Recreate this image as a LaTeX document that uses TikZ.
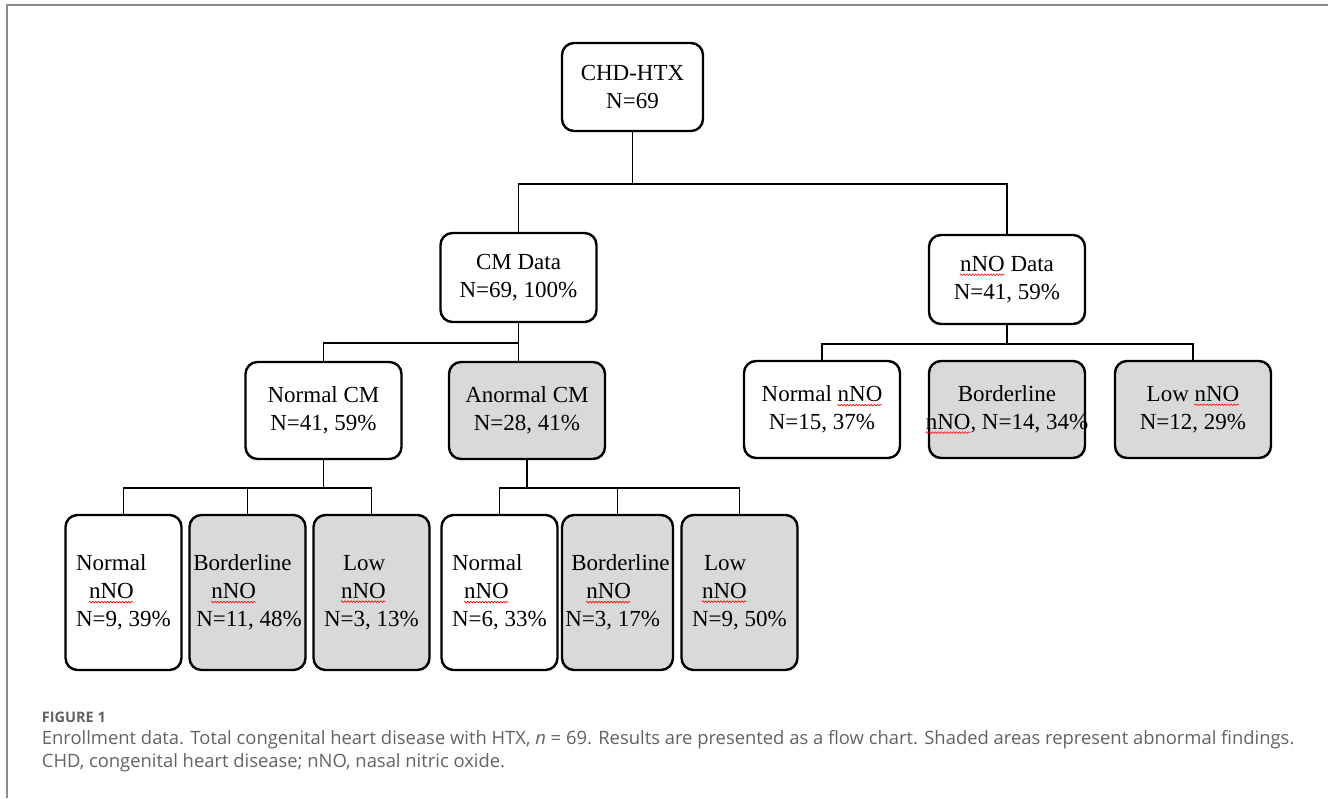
\documentclass[tikz,border=0pt]{standalone}
\usepackage{fontspec}
\setmainfont{Liberation Serif}
\newfontfamily\capfont{Open Sans}
\usetikzlibrary{positioning,decorations.pathmorphing}
\definecolor{boxgray}{HTML}{D9D9D9}
\definecolor{framegray}{HTML}{8C8C8C}
\definecolor{capgray}{HTML}{626262}
% red wavy underline (spell check marks)
\newsavebox\wavebox
\newcommand{\uw}[1]{\sbox\wavebox{#1}\usebox\wavebox\llap{\raisebox{-4.5pt}{\tikz[x=1pt ,y=1pt ,sharp corners]
\draw[red ,line width=0.6pt ,decorate ,decoration={snake ,amplitude=0.8pt ,segment length=3pt}] (0,0) -- (\wd\wavebox,0);}}}

\begin{document}
\begin{tikzpicture}[x=1pt ,y=-1pt ,on grid ,
line width=1.8pt ,
wbox/.style ={draw ,line width=2.4pt ,rounded corners=12pt ,align=center ,
inner sep=0pt ,font=\fontsize{23}{28}\selectfont},
gbox/.style ={wbox ,fill=boxgray},
wide/.style ={minimum width=156pt ,minimum height=89pt},
mid/.style ={minimum width=156pt ,minimum height=97pt},
tall/.style ={minimum width=116pt ,minimum height=155pt},
captxt/.style ={anchor=west ,inner sep=0pt ,text=capgray}]
\useasboundingbox (0,0) rectangle (1328,798);
\draw[framegray ,line width=1.4pt] (7,798) -- (7,5) -- (1328,5);
% tree
\node[wbox ,minimum width=141pt ,minimum height=88pt] (top) at (632.5,87) {CHD-HTX\\N=69};
\node[wbox ,wide] (cm) [below left = 190.5pt and 114pt of top] {CM Data\\N=69, 100\%};
\node[wbox ,wide] (nno) [below right = 192.5pt and 374.5pt of top] {\uw{nNO} Data\\N=41, 59\%};
\node[wbox ,mid] (ncm) [below left = 133pt and 195pt of cm] {Normal CM\\N=41, 59\%};
\node[gbox ,mid] (acm) [below right = 133pt and 8.5pt of cm] {Anormal CM\\N=28, 41\%};
\node[wbox ,mid] (rn) [below left = 130pt and 185pt of nno] {Normal \uw{nNO}\\N=15, 37\%};
\node[gbox ,mid] (rb) [below = 130pt of nno] {Borderline\\\makebox[150pt]{\uw{nNO}, N=14, 34\%}};
\node[gbox ,mid] (rl) [below right = 130pt and 186pt of nno] {Low \uw{nNO}\\N=12, 29\%};
\node[wbox ,tall ,align=left] (b1) [below left = 182pt and 200pt of ncm] {Normal\\\hspace*{13pt}\uw{nNO}\\N=9, 39\%};
\node[gbox ,tall ,align=left] (b2) [right = 124pt of b1] {Borderline\\\hspace*{18pt}\uw{nNO}\\\hspace*{3pt}N=11, 48\%};
\node[gbox ,tall ,align=left] (b3) [right = 124pt of b2] {\hspace*{19pt}Low\\\hspace*{17pt}\uw{nNO}\\N=3, 13\%};
\node[wbox ,tall ,align=left] (b4) [right = 128pt of b3] {Normal\\\hspace*{12pt}\uw{nNO}\\N=6, 33\%};
\node[gbox ,tall ,align=left ,minimum width=111pt] (b5) [right = 118pt of b4] {\hspace*{6pt}Borderline\\\hspace*{21pt}\uw{nNO}\\N=3, 17\%};
\node[gbox ,tall ,align=left] (b6) [right = 122pt of b5] {\hspace*{12pt}Low\\\hspace*{10pt}\uw{nNO}\\N=9, 50\%};
% connectors
\draw (top.south) -- ++(0,-52pt) -| (cm.north);
\draw (top.south) -- ++(0,-52pt) -| (nno.north);
\draw (cm.south) -- ++(0,-20pt) -| (ncm.north);
\draw (cm.south) -- (cm.south |- acm.north);
\draw (nno.south) -- ++(0,-19pt) -| (rn.north);
\draw (nno.south) -- ++(0,-19pt) -| (rl.north);
\foreach \k in {b1,b2,b3}
\draw (ncm.south) -- ++(0,-28pt) -| (\k.north);
\foreach \k in {b4,b5,b6}
\draw (acm.south) -- ++(0,-28pt) -| (\k.north);
% caption
\node[captxt ,font=\capfont\bfseries\fontsize{14.5}{17}\selectfont] (fig) at (41,717) {FIGURE 1};
\node[captxt ,font=\capfont\fontsize{18.4}{23}\selectfont] (cap1) at (41,740) {Enrollment data. Total congenital heart disease with HTX, \textit{n} = 69. Results are presented as a flow chart. Shaded areas represent abnormal findings.};
\node[captxt ,font=\capfont\fontsize{18.4}{23}\selectfont] (cap2) at (41,763) {CHD, congenital heart disease; nNO, nasal nitric oxide.};
\end{tikzpicture}
\end{document}
